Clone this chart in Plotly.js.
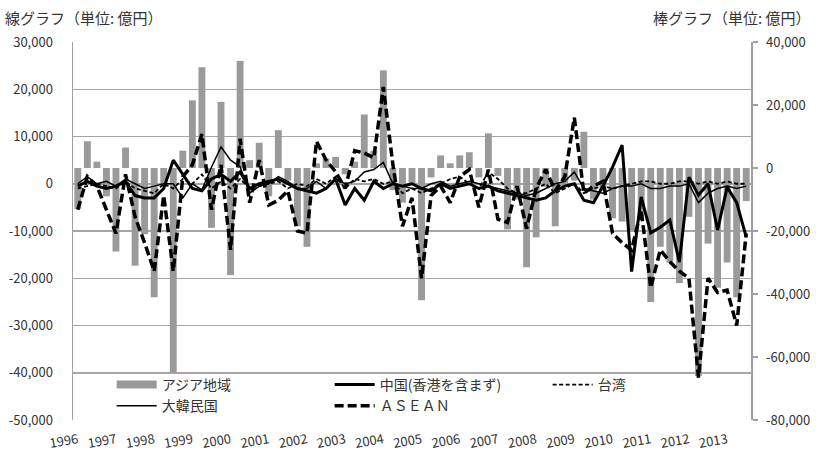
<!DOCTYPE html>
<html>
<head>
<meta charset="utf-8">
<script src="https://cdn.plot.ly/plotly-3.0.1.min.js"></script>
<style>html,body{margin:0;padding:0;background:#fff;}#chart{width:816px;height:457px;}</style>
</head>
<body>
<div id="chart"></div>
<script>
// Year tick labels (one per 4 quarters, 1996Q1 .. 2013Q3)
const years = ['1996','1997','1998','1999','2000','2001','2002','2003','2004','2005','2006','2007','2008','2009','2010','2011','2012','2013'];
const yearPos = [0,4,8,12,16,20,24,28,32,36,40,44,48,52,56,60,64,68];

// Bars: アジア地域 (right axis, 億円)
const asia = [
 -13000, 8500, 2000, -9000, -26500, 6500, -31000, -21000, -41000, -6000, -65000, 5500,
 21500, 32000, -19000, 21000, -34000, 34000, 2500, 8000, -9000, 12000, -4000, -18500,
 -25000, 1500, 3000, 3500, -2000, 2000, 17000, 5500, 31000, -7000, -11000, -5000,
 -42000, -3000, 4000, 1500, 4000, 5000, -3000, 11000, -2500, -19500, -10000, -31500,
 -22000, -6000, -18500, -6000, -4000, 11500, -10000, -7000, -16000, -17000, -20000, -14000,
 -42500, -25000, -30000, -36500, -15500, -66000, -24000, -38000, -30000, -41000, -10500
];
// Lines (left axis, 億円)
const china = [
 -500, 500, -500, -1000, -500, 500, -2500, -3000, -3000, -1000, 5000, 2000,
 -1000, -1500, 1000, 2000, 500, 2500, -1000, 0, 500, 1000, 0, -1000,
 -1500, -2000, -1000, 1000, -4500, -1000, -3500, 500, -1000, 0, -500, 0,
 -1000, -1500, 0, -1000, -500, 0, -1000, -500, -1500, -2000, -2500, -3000,
 -3500, -3000, -1500, -500, 0, -3500, -4000, -500, 3500, 8200, -18600, -2800,
 -10400, -9200, -7700, -16600, 1400, -2400, 0, -9800, -700, -4000, -11300
];
const korea = [
 0, 1500, 0, 500, -500, 1000, 0, -1000, -500, 0, 0, -3000,
 0, -1300, 3500, 7800, 5000, 3600, -2000, -500, 0, 1500, 500, -1000,
 -1000, 500, -1000, 1000, 0, 500, 2500, 3000, 4500, 0, -500, -1000,
 -1000, 0, 500, -500, 0, 500, 0, -500, -1000, -1500, -2000, -2500,
 -2000, -1000, 0, 500, 2500, -1000, -1500, -2000, -1000, -500, -500, 0,
 -1000, -1000, -500, -500, 0, -4000, -2000, -1000, -500, -1000, -500
];
const taiwan = [
 -1000, -500, 0, -500, -1000, 500, -1000, -1500, -2000, 0, -1000, 1000,
 0, 2000, -1000, 500, -1000, 1000, -1000, -500, 0, 500, -1000, 0,
 -500, 1000, 0, 1500, -1000, 1000, 500, 1000, 0, 500, -2000, -1000,
 -2000, -1000, 0, 1000, 1500, 0, -1000, 2500, 1000, -1000, -2000, -2000,
 -1000, 0, -2000, -1000, 0, -2000, -1000, -500, -1000, -500, 0, 500,
 500, 0, 0, 500, 500, 0, 500, 0, 500, 0, 0
];
const asean = [
 -5500, 1500, -500, -5500, -10500, 2000, -7000, -12500, -18500, -2500, -18500, 1500,
 4000, 10500, -5500, 4000, -14000, 9500, -4000, 5000, -4500, -3500, -1500, -10000,
 -10500, 9000, 5000, 2500, -1000, 7000, 6500, 5500, 20500, 4000, -9000, -3000,
 -20000, -2500, -500, -4000, 1500, 3000, -5000, 3000, -7500, -8200, -500, -9500,
 -1000, 3000, -1500, 1500, 14000, -2000, -500, 500, -10500, -12500, -14000, -5500,
 -22000, -14000, -16500, -18500, -20000, -41000, -20000, -23000, -22500, -30000, -10500
];
const names = ['アジア地域', '中国(香港を含まず)', '台湾', '大韓民国', 'ＡＳＥＡＮ'];
const leftTickVals = [30000, 20000, 10000, 0, -10000, -20000, -30000, -40000, -50000];
const leftTickText = ['30,000', '20,000', '10,000', '0', '-10,000', '-20,000', '-30,000', '-40,000', '-50,000'];
const rightTickVals = [40000, 20000, 0, -20000, -40000, -60000, -80000];
const rightTickText = ['40,000', '20,000', '0', '-20,000', '-40,000', '-60,000', '-80,000'];

const xq = asia.map((_, i) => i);
const FONT = '"Noto Sans CJK JP", "Noto Sans", sans-serif';
const BAR_GRAY = '#9a9a9a';

const traces = [
  {type: 'bar', x: xq, y: asia, name: names[0], yaxis: 'y', marker: {color: BAR_GRAY}, width: 0.72, showlegend: false},
  // legend entry for the bars, drawn as a wide grey swatch like the original
  {type: 'scatter', mode: 'lines', x: [null], y: [null], name: names[0], yaxis: 'y2', line: {color: BAR_GRAY, width: 8}, hoverinfo: 'skip'},
  {type: 'scatter', mode: 'lines', x: xq, y: china, name: names[1], yaxis: 'y2', line: {color: '#000', width: 3}},
  {type: 'scatter', mode: 'lines', x: xq, y: taiwan, name: names[2], yaxis: 'y2', line: {color: '#000', width: 1.8, dash: '4px,2.5px'}},
  {type: 'scatter', mode: 'lines', x: xq, y: korea, name: names[3], yaxis: 'y2', line: {color: '#000', width: 1.5}},
  {type: 'scatter', mode: 'lines', x: xq, y: asean, name: names[4], yaxis: 'y2', line: {color: '#000', width: 3.5, dash: '9px,4px'}}
];

const layout = {
  width: 816, height: 457,
  margin: {l: 73, r: 65, t: 42, b: 37, pad: 0},
  paper_bgcolor: '#fff', plot_bgcolor: '#fff',
  font: {family: FONT, size: 13, color: '#333'},
  showlegend: true,
  xaxis: {
    range: [-0.5, 70.5], tickmode: 'array', tickvals: yearPos, ticktext: years,
    tickangle: -10, showgrid: false, zeroline: false, showline: false, ticks: '',
    tickfont: {size: 13, color: '#333', family: FONT}, ticklabelstandoff: 9, fixedrange: true
  },
  yaxis: {
    side: 'right', range: [-80000, 40000], tickmode: 'array', tickvals: rightTickVals, ticktext: rightTickText,
    showgrid: false, zeroline: false, showline: true, linecolor: '#a0a0a0', linewidth: 1.5,
    ticks: 'outside', ticklen: 5, tickcolor: '#a0a0a0', tickwidth: 1.5,
    tickfont: {size: 13, color: '#333', family: FONT}, ticklabelstandoff: 6
  },
  yaxis2: {
    overlaying: 'y', side: 'left', range: [-50000, 30000], tickmode: 'array', tickvals: leftTickVals, ticktext: leftTickText,
    showgrid: true, gridcolor: '#a6a6a6', gridwidth: 1.5, zeroline: false,
    showline: true, linecolor: '#a0a0a0', linewidth: 1.5, ticks: '',
    tickfont: {size: 13, color: '#333', family: FONT}, ticklabelstandoff: 16
  },
  legend: {
    orientation: 'h', x: 0.057, xanchor: 'left', y: 0.135, yanchor: 'top',
    bgcolor: 'rgba(0,0,0,0)', font: {size: 14, color: '#333', family: FONT},
    entrywidth: 163, entrywidthmode: 'pixels', itemwidth: 40, traceorder: 'normal',
    tracegroupgap: 0
  },
  annotations: [
    {text: '線グラフ（単位: 億円）', xref: 'paper', yref: 'paper', x: -0.103, y: 1.066, xanchor: 'left', yanchor: 'middle', showarrow: false, font: {size: 15, color: '#333', family: FONT}},
    {text: '棒グラフ（単位: 億円）', xref: 'paper', yref: 'paper', x: 1.092, y: 1.066, xanchor: 'right', yanchor: 'middle', showarrow: false, font: {size: 15, color: '#333', family: FONT}}
  ]
};

Plotly.newPlot('chart', traces, layout, {displayModeBar: false, staticPlot: true});
</script>
</body>
</html>
